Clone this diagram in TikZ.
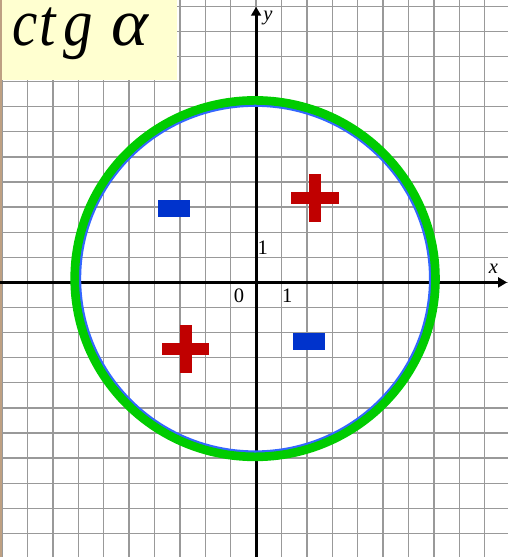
\documentclass[tikz,border=0pt]{standalone}
\usepackage{fontspec}
\setmainfont{Liberation Serif}
\usetikzlibrary{arrows.meta}

\definecolor{gridgray}{RGB}{153,153,153}
\definecolor{notepad}{RGB}{255,255,208}
\definecolor{edgetan}{RGB}{190,160,130}
\definecolor{signred}{RGB}{192,0,0}
\definecolor{signblue}{RGB}{0,51,204}
\definecolor{ringgreen}{RGB}{0,204,0}
\definecolor{ringblue}{RGB}{51,102,255}

\begin{document}
\begin{tikzpicture}[x=1cm, y=0.988cm,
		axislabel/.style={inner sep=0pt, font=\fontsize{23}{23}\selectfont},
		titletext/.style={anchor=base west, inner sep=0pt, text height=0.6em, text depth=0.3em, font=\fontsize{75}{75}\selectfont\itshape},
		plussign/.style={fill=signred},
		minussign/.style={fill=signblue}]
		% sheet of squared paper, one square = one unit
		\useasboundingbox (-10.08, -10.94) rectangle (9.92, 11.25);
		\fill [white] (-10.08, -10.94) rectangle (9.92, 11.25);
		\draw [gridgray, line width=1.5pt, step=1] (-10.08, -10.94) grid (9.92, 11.25);

		% title card in the upper left corner, letters set one by one
		\fill [notepad] (-10.08, 8.06) rectangle (-3.12, 11.25);
		\node [titletext, xscale=0.85] (tc) at (-9.60, 9.45) {c};
		\node [titletext, xscale=0.88] (tt) at (-8.52, 9.45) {t};
		\node [titletext, xscale=0.88] (tg) at (-7.60, 9.45) {g};
		\node [titletext, xscale=1.05] (talpha) at (-5.68, 9.45) {α};
		\fill [edgetan] (-10.08, -10.94) rectangle (-10.02, 11.25);

		% axes
		\coordinate (O) at (0, 0);
		\coordinate (xstart) at (-10.08, 0);
		\coordinate (xend) at (9.88, 0);
		\coordinate (ystart) at (0, -10.94);
		\coordinate (yend) at (0, 10.98);
		\draw [line width=3.4pt, -{Triangle[length=10pt, width=11pt]}] (xstart) -- (xend);
		\draw [line width=3.4pt, -{Triangle[length=10pt, width=11pt]}] (ystart) -- (yend);
		\node [axislabel, font=\fontsize{23}{23}\selectfont\itshape] (xlabel) at (9.34, 0.56) {x};
		\node [axislabel, font=\fontsize{23}{23}\selectfont\itshape] (ylabel) at (0.47, 10.53) {y};
		\node [axislabel] (zero) at (-0.67, -0.55) {0};
		\node [axislabel] (xone) at (1.23, -0.55) {1};
		\node [axislabel] (yone) at (0.26, 1.39) {1};

		% the circle
		\draw [ringblue, line width=3.2pt] (-0.04, 0.15) circle [radius=6.9];
		\draw [ringgreen, line width=9.7pt] (-0.04, 0.15) circle [radius=7.1];

		% signs of the cotangent in the quarters
		\fill [plussign] (1.38, 3.13) rectangle (3.27, 3.61);
		\fill [plussign] (2.07, 2.41) rectangle (2.56, 4.31);
		\fill [minussign] (-3.86, 2.62) rectangle (-2.60, 3.28);
		\fill [plussign] (-3.71, -2.90) rectangle (-1.84, -2.41);
		\fill [plussign] (-2.99, -3.59) rectangle (-2.53, -1.69);
		\fill [minussign] (1.46, -2.70) rectangle (2.72, -2.01);
	\end{tikzpicture}
\end{document}
